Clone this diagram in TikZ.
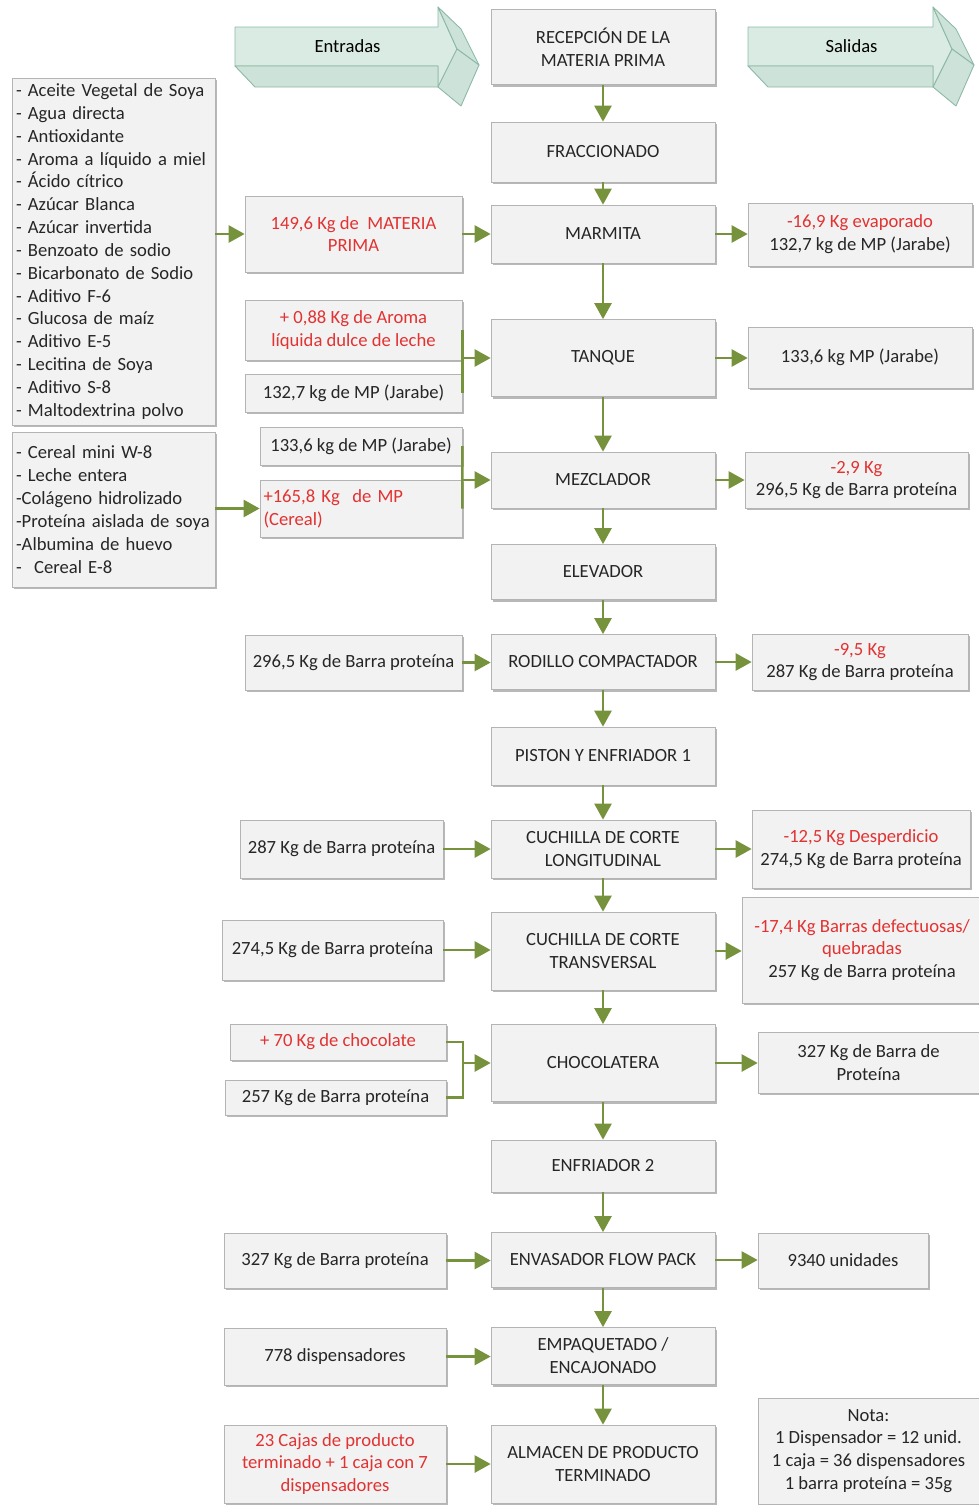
\documentclass[tikz,border=0pt]{standalone}
\usepackage{fontspec}
\setmainfont{Carlito}
\usepackage{tikz}
\usetikzlibrary{arrows.meta}
\usetikzlibrary{shadows}

\definecolor{boxfill}{RGB}{242,242,242}
\definecolor{boxline}{RGB}{180,180,180}
\definecolor{flowgreen}{RGB}{118,146,60}
\definecolor{redtxt}{RGB}{226,50,50}
\definecolor{facefill}{RGB}{218,235,227}
\definecolor{sidefill}{RGB}{205,226,216}
\definecolor{faceline}{RGB}{140,184,166}

\begin{document}
\begin{tikzpicture}[
                    x=0.02cm, y=-0.02cm,
                    font=\fontsize{10.6}{13}\selectfont,
                    box/.style={draw=boxline, fill=boxfill, align=center, inner sep=2pt, text=black!85,
                                drop shadow={shadow xshift=1.2pt, shadow yshift=-1.4pt, fill=black, opacity=0.28}},
                    process/.style={box, minimum width=4.48cm},
                    list/.style={box, align=left, text width=3.9cm, inner xsep=0.08cm, inner ysep=0pt, minimum width=4.06cm},
                    flow/.style={draw=flowgreen, line width=1.4pt, -{Triangle[length=0.32cm,width=0.34cm]}},
                    link/.style={draw=flowgreen, line width=1.4pt},
                    face/.style={fill=facefill, draw=faceline, line width=0.5pt, line join=round},
                    side/.style={face, fill=sidefill}
                ]
                \useasboundingbox (0,0) rectangle (979,1505);

                \foreach \xa/\xb/\txt/\nm in {235/438/Entradas/entradas, 748/933/Salidas/salidas}{
                    \draw[face] (\xa,27) -- (\xb,27) -- (\xb,7) -- (\xb+19,49) -- (\xb,87) -- (\xb,66) -- (\xa,66) -- cycle;
                    \draw[side] (\xa,66) -- (\xb,66) -- (\xb,87) -- (\xa+20,87) -- cycle;
                    \draw[side] (\xb,7) -- (\xb+23,29) -- (\xb+41,65) -- (\xb+19,49) -- cycle;
                    \draw[side] (\xb,87) -- (\xb+19,49) -- (\xb+41,65) -- (\xb+23,106) -- cycle;
                    \node (\nm) at ({(\xa+\xb)/2+11},46) {\txt};
                }

                \node[process, minimum height=1.5cm] (rec) at (603,47) {RECEPCIÓN DE LA\\MATERIA PRIMA};
                \node[process, minimum height=1.2cm] (frac) at (603,152) {FRACCIONADO};
                \node[process, minimum height=1.16cm] (marm) at (603,234) {MARMITA};
                \node[process, minimum height=1.54cm] (tanq) at (603,358) {TANQUE};
                \node[process, minimum height=1.12cm] (mezc) at (603,480) {MEZCLADOR};
                \node[process, minimum height=1.1cm] (elev) at (603,572) {ELEVADOR};
                \node[process, minimum height=1.1cm] (rodi) at (603,662) {RODILLO COMPACTADOR};
                \node[process, minimum height=1.16cm] (pist) at (603,756) {PISTON Y ENFRIADOR 1};
                \node[process, minimum height=1.16cm] (cortel) at (603,849) {CUCHILLA DE CORTE\\LONGITUDINAL};
                \node[process, minimum height=1.56cm] (cortet) at (603,951) {CUCHILLA DE CORTE\\TRANSVERSAL};
                \node[process, minimum height=1.54cm] (choc) at (603,1063) {CHOCOLATERA};
                \node[process, minimum height=1.04cm] (enfr) at (603,1166) {ENFRIADOR 2};
                \node[process, minimum height=1.1cm] (envs) at (603,1260) {ENVASADOR FLOW PACK};
                \node[process, minimum height=1.14cm] (empq) at (603,1356) {EMPAQUETADO /\\ENCAJONADO};
                \node[process, minimum height=1.56cm] (alma) at (603,1464) {ALMACEN DE PRODUCTO\\TERMINADO};

                \node[list, minimum height=6.94cm] (insumos) at (113.5,251.5) {- Aceite Vegetal de Soya\\- Agua directa\\- Antioxidante\\- Aroma a líquido a miel\\- Ácido cítrico\\- Azúcar Blanca\\- Azúcar invertida\\- Benzoato de sodio\\- Bicarbonato de Sodio\\- Aditivo F-6\\- Glucosa de maíz\\- Aditivo E-5\\- Lecitina de Soya\\- Aditivo S-8\\- Maltodextrina polvo};
                \node[list, minimum height=3.1cm] (cereales) at (113.5,509.5) {- Cereal mini W-8\\- Leche entera\\-Colágeno hidrolizado\\\mbox{-Proteína aislada de soya}\\-Albumina de huevo\\-\ \ Cereal E-8};

                \node[box, minimum width=4.34cm, minimum height=1.52cm, text=redtxt] (mp) at (353.5,234) {149,6 Kg de\ \ MATERIA\\PRIMA};
                \node[box, minimum width=4.34cm, minimum height=1.2cm, text=redtxt] (aroma) at (353.5,330) {+ 0,88 Kg de Aroma\\líquida dulce de leche};
                \node[box, minimum width=4.34cm, minimum height=0.76cm] (jarabea) at (353.5,393) {132,7 kg de MP (Jarabe)};
                \node[box, minimum width=4.04cm, minimum height=0.76cm] (jarabeb) at (361,446) {133,6 kg de MP (Jarabe)};
                \node[box, align=left, text width=3.9cm, inner xsep=0.07cm, minimum height=1.14cm, text=redtxt] (cereal) at (361,508.5) {+165,8 Kg\ \ de MP\\(Cereal)};
                \node[box, minimum width=4.34cm, minimum height=1.1cm] (barraa) at (353.5,662.5) {296,5 Kg de Barra proteína};
                \node[box, minimum width=4.06cm, minimum height=1.16cm] (barrab) at (341.5,849) {287 Kg de Barra proteína};
                \node[box, minimum width=4.42cm, minimum height=1.2cm] (barrac) at (332.5,950) {274,5 Kg de Barra proteína};
                \node[box, minimum width=4.32cm, minimum height=0.72cm, text=redtxt] (choco) at (338,1042) {+ 70 Kg de chocolate};
                \node[box, minimum width=4.42cm, minimum height=0.7cm] (barrad) at (335.5,1097.5) {257 Kg de Barra proteína};
                \node[box, minimum width=4.44cm, minimum height=1.1cm] (barrae) at (335,1260.5) {327 Kg de Barra proteína};
                \node[box, minimum width=4.44cm, minimum height=1.14cm] (disp) at (335,1356.5) {778 dispensadores};
                \node[box, minimum width=4.44cm, minimum height=1.56cm, text=redtxt] (cajas) at (335,1464) {23 Cajas de producto\\terminado + 1 caja con 7\\dispensadores};

                \node[box, minimum width=4.48cm, minimum height=1.26cm] (evap) at (860,234.5) {\textcolor{redtxt}{-16,9 Kg evaporado}\\132,7 kg de MP (Jarabe)};
                \node[box, minimum width=4.48cm, minimum height=1.22cm] (saltq) at (860,357.5) {133,6 kg MP (Jarabe)};
                \node[box, minimum width=4.46cm, minimum height=1.12cm] (salmz) at (856.5,480) {\textcolor{redtxt}{-2,9 Kg}\\296,5 Kg de Barra proteína};
                \node[box, minimum width=4.32cm, minimum height=1.12cm] (salro) at (860,662) {\textcolor{redtxt}{-9,5 Kg}\\287 Kg de Barra proteína};
                \node[box, minimum width=4.36cm, minimum height=1.56cm] (salcl) at (861,849) {\textcolor{redtxt}{-12,5 Kg Desperdicio}\\274,5 Kg de Barra proteína};
                \node[box, minimum width=4.8cm, minimum height=2.12cm] (salct) at (862,950) {\textcolor{redtxt}{-17,4 Kg Barras defectuosas/}\\\textcolor{redtxt}{quebradas}\\257 Kg de Barra proteína};
                \node[box, minimum width=4.42cm, minimum height=1.22cm] (salch) at (868.5,1062.5) {327 Kg de Barra de\\Proteína};
                \node[box, minimum width=3.4cm, minimum height=1.1cm] (unid) at (843,1260.5) {9340 unidades};
                \node[box, minimum width=4.42cm, minimum height=2.12cm] (nota) at (868.5,1451) {Nota:\\1 Dispensador = 12 unid.\\1 caja = 36 dispensadores\\1 barra proteína = 35g};

                \foreach \a/\b in {rec/frac, frac/marm, marm/tanq, tanq/mezc, mezc/elev, elev/rodi, rodi/pist, pist/cortel, cortel/cortet, cortet/choc, choc/enfr, enfr/envs, envs/empq, empq/alma}
                    \draw[flow] (\a) -- (\b);

                \foreach \a/\b in {mp/marm, barraa/rodi, barrab/cortel, barrac/cortet, barrae/envs, disp/empq, cajas/alma}
                    \draw[flow] (\a) -- (\a -| \b.west);

                \foreach \a/\b in {marm/evap, tanq/saltq, mezc/salmz, rodi/salro, cortel/salcl, cortet/salct, choc/salch, envs/unid}
                    \draw[flow] (\a) -- (\a -| \b.west);

                \draw[flow] (insumos.east |- mp) -- (mp);
                \draw[flow] (cereales.east |- cereal) -- (cereal);

                \draw[link] (aroma.east) -- (jarabea.east);
                \draw[flow] (aroma.east |- tanq) -- (tanq);
                \draw[link] (jarabeb.east) -- (cereal.east);
                \draw[flow] (jarabeb.east |- mezc) -- (mezc);

                \coordinate (junta) at (463,1063);
                \draw[link] (choco.east) -| (junta) |- (barrad.east);
                \draw[flow] (junta) -- (choc);
            \end{tikzpicture}
\end{document}
